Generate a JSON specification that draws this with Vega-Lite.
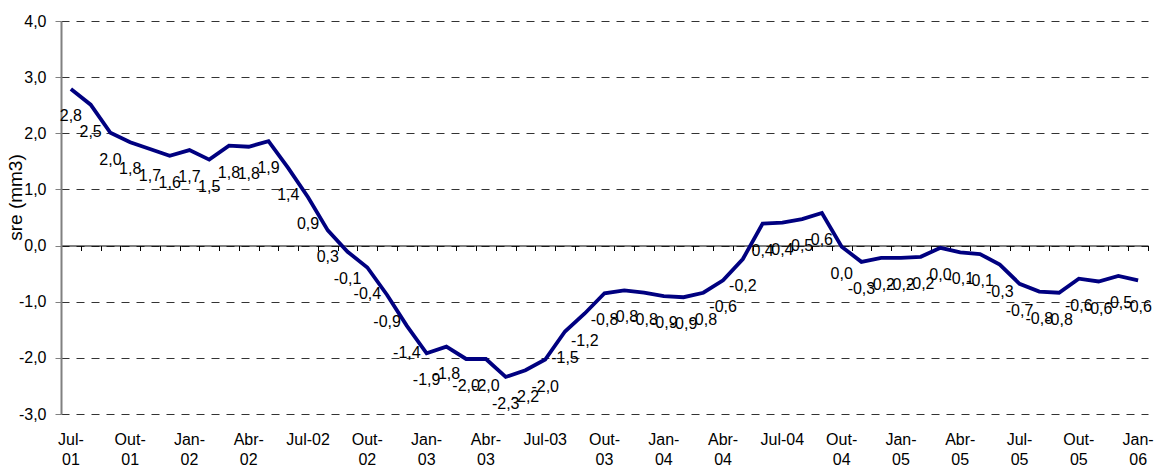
{
  "$schema": "https://vega.github.io/schema/vega-lite/v6.json",
  "width": 1087,
  "height": 393,
  "autosize": {"type": "none"},
  "padding": {"left": 61, "top": 21, "right": 13, "bottom": 56},
  "config": {
    "locale": {"number": {"decimal": ",", "thousands": ".", "grouping": [3], "currency": ["", ""], "minus": "-"}},
    "view": {"stroke": null},
    "font": "Liberation Sans"
  },
  "data": {"values": [
    {"mes": "Jul-01", "sre": 2.79}, {"mes": "Ago-01", "sre": 2.51}, {"mes": "Set-01", "sre": 2.01},
    {"mes": "Out-01", "sre": 1.84}, {"mes": "Nov-01", "sre": 1.72}, {"mes": "Dez-01", "sre": 1.60},
    {"mes": "Jan-02", "sre": 1.70}, {"mes": "Fev-02", "sre": 1.53}, {"mes": "Mar-02", "sre": 1.78},
    {"mes": "Abr-02", "sre": 1.76}, {"mes": "Mai-02", "sre": 1.86}, {"mes": "Jun-02", "sre": 1.38},
    {"mes": "Jul-02", "sre": 0.86}, {"mes": "Ago-02", "sre": 0.27}, {"mes": "Set-02", "sre": -0.11},
    {"mes": "Out-02", "sre": -0.39}, {"mes": "Nov-02", "sre": -0.88}, {"mes": "Dez-02", "sre": -1.43},
    {"mes": "Jan-03", "sre": -1.92}, {"mes": "Fev-03", "sre": -1.80}, {"mes": "Mar-03", "sre": -2.02},
    {"mes": "Abr-03", "sre": -2.02}, {"mes": "Mai-03", "sre": -2.34}, {"mes": "Jun-03", "sre": -2.22},
    {"mes": "Jul-03", "sre": -2.03}, {"mes": "Ago-03", "sre": -1.53}, {"mes": "Set-03", "sre": -1.21},
    {"mes": "Out-03", "sre": -0.85}, {"mes": "Nov-03", "sre": -0.80}, {"mes": "Dez-03", "sre": -0.84},
    {"mes": "Jan-04", "sre": -0.90}, {"mes": "Fev-04", "sre": -0.92}, {"mes": "Mar-04", "sre": -0.84},
    {"mes": "Abr-04", "sre": -0.62}, {"mes": "Mai-04", "sre": -0.24}, {"mes": "Jun-04", "sre": 0.39},
    {"mes": "Jul-04", "sre": 0.41}, {"mes": "Ago-04", "sre": 0.47}, {"mes": "Set-04", "sre": 0.58},
    {"mes": "Out-04", "sre": -0.02}, {"mes": "Nov-04", "sre": -0.29}, {"mes": "Dez-04", "sre": -0.22},
    {"mes": "Jan-05", "sre": -0.22}, {"mes": "Fev-05", "sre": -0.20}, {"mes": "Mar-05", "sre": -0.04},
    {"mes": "Abr-05", "sre": -0.12}, {"mes": "Mai-05", "sre": -0.15}, {"mes": "Jun-05", "sre": -0.34},
    {"mes": "Jul-05", "sre": -0.68}, {"mes": "Ago-05", "sre": -0.82}, {"mes": "Set-05", "sre": -0.84},
    {"mes": "Out-05", "sre": -0.59}, {"mes": "Nov-05", "sre": -0.64}, {"mes": "Dez-05", "sre": -0.54},
    {"mes": "Jan-06", "sre": -0.62}
  ]},
  "layer": [
    {
      "mark": {"type": "line", "color": "#000080", "strokeWidth": 3.8},
      "encoding": {
        "x": {
          "field": "mes", "type": "ordinal", "sort": null, "bandPosition": 0.5,
          "scale": {"type": "band", "paddingInner": 0, "paddingOuter": 0},
          "axis": {
            "orient": "bottom", "title": null, "domain": false, "ticks": false, "grid": false,
            "labelAngle": 0, "labelFontSize": 16, "labelColor": "#000", "labelPadding": 17,
            "labelBaseline": "top", "labelLineHeight": 20, "labelOverlap": false, "labelFlush": false,
            "labelExpr": "indexof(['Jan','Abr','Jul','Out'], slice(datum.label,0,3)) >= 0 ? ((datum.label == 'Jul-02' || datum.label == 'Jul-03' || datum.label == 'Jul-04') ? datum.label : [slice(datum.label,0,4), slice(datum.label,4)]) : ''"
          }
        },
        "y": {
          "field": "sre", "type": "quantitative",
          "scale": {"domain": [-3, 4], "nice": false, "zero": false},
          "axis": {
            "title": "sre (mm3)", "titleFontSize": 19, "titleFontWeight": "normal", "titleColor": "#000",
            "titleX": -46, "titleY": 176, "titleAngle": 270, "titleAlign": "center", "titleBaseline": "middle",
            "values": [-3, -2, -1, 0, 1, 2, 3, 4], "format": ".1f",
            "labelFontSize": 16, "labelColor": "#000", "labelPadding": 9,
            "domainColor": "#808080", "domainWidth": 2, "tickColor": "#808080", "tickSize": 6, "tickWidth": 1,
            "grid": true, "gridColor": "#333333", "gridDash": [8, 7], "gridWidth": 1
          }
        }
      }
    },
    {
      "mark": {"type": "text", "dy": 27, "fontSize": 16, "baseline": "middle", "align": "center", "color": "#000"},
      "encoding": {
        "x": {
          "field": "mes", "type": "ordinal", "sort": null, "bandPosition": 0.5,
          "axis": {
            "orient": "bottom", "title": null, "labels": false, "grid": false, "offset": -168.5,
            "domain": true, "domainColor": "#000", "domainWidth": 1,
            "ticks": true, "tickBand": "extent", "tickSize": 5, "tickColor": "#000", "tickWidth": 1
          }
        },
        "y": {"field": "sre", "type": "quantitative"},
        "text": {"field": "sre", "type": "quantitative", "format": ".1f"}
      }
    }
  ],
  "resolve": {"axis": {"x": "independent"}}
}
